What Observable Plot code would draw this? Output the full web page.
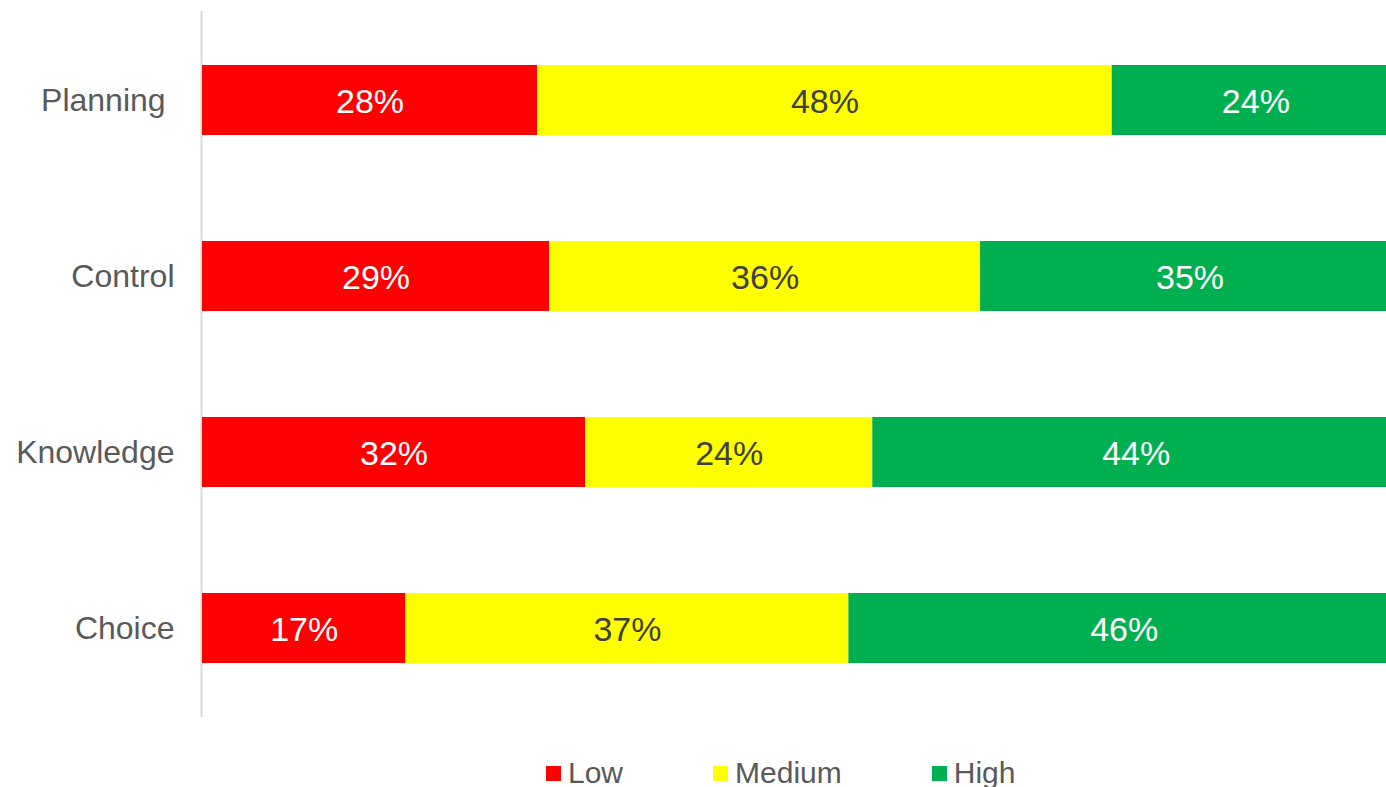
<!DOCTYPE html>
<html>
<head>
<meta charset="utf-8">
<script src="https://cdn.jsdelivr.net/npm/d3@7"></script>
<script src="https://cdn.jsdelivr.net/npm/@observablehq/plot@0.6"></script>
<style>
  html, body { margin: 0; padding: 0; overflow: hidden; background: #fff; width: 1386px; height: 787px; }
  body { font-family: "Liberation Sans", Arial, sans-serif; color: #595959; }
  #legend { display: flex; align-items: center; gap: 90px; padding-left: 546px; margin-top: 18px; height: 30px; line-height: 30px; font-size: 30px; }
  .item { display: flex; align-items: center; gap: 7px; }
  .sw { width: 15px; height: 15px; display: inline-block; }
</style>
</head>
<body>
<div id="chart"></div>
<div id="legend"></div>
<script>
const categories = ["Planning ", "Control", "Knowledge", "Choice"];
const levels = ["Low", "Medium", "High"];
const colors = ["#FF0000", "#FFFF00", "#00B050"];
const low = [28, 29, 32, 17];
const medium = [48, 36, 24, 37];
const high = [24, 35, 44, 46];

const series = [low, medium, high];
const data = [];
categories.forEach((c, i) => {
  levels.forEach((l, j) => data.push({category: c, level: l, value: series[j][i]}));
});

const chart = Plot.plot({
  width: 1400,
  height: 740,
  marginLeft: 202,
  marginRight: 1,
  marginTop: 11,
  marginBottom: 23,
  style: {fontFamily: "'Liberation Sans', Arial, sans-serif", fontSize: "32px", color: "#595959", maxWidth: "none", background: "#fff"},
  x: {domain: [0, 100], axis: null},
  y: {domain: categories, paddingInner: 0.6, paddingOuter: 0.3, label: null, tickSize: 0, tickPadding: 28},
  color: {domain: levels, range: colors},
  marks: [
    Plot.ruleX([0], {stroke: "#d9d9d9", strokeWidth: 2, dx: -1}),
    Plot.barX(data, {x: "value", y: "category", fill: "level", z: "level"}),
    Plot.textX(data, Plot.stackX({
      x: "value", y: "category", z: "level",
      text: d => d.level !== "Medium" ? d.value + "%" : "",
      fill: "white", fontSize: 34, dy: 2
    })),
    Plot.textX(data, Plot.stackX({
      x: "value", y: "category", z: "level",
      text: d => d.level === "Medium" ? d.value + "%" : "",
      fill: "#404040", fontSize: 34, dy: 2
    }))
  ]
});
document.getElementById("chart").append(chart);

const legend = document.getElementById("legend");
levels.forEach((l, i) => {
  const item = document.createElement("div");
  item.className = "item";
  const sw = document.createElement("span");
  sw.className = "sw";
  sw.style.background = colors[i];
  const t = document.createElement("span");
  t.textContent = l;
  item.append(sw, t);
  legend.append(item);
});
</script>
</body>
</html>
